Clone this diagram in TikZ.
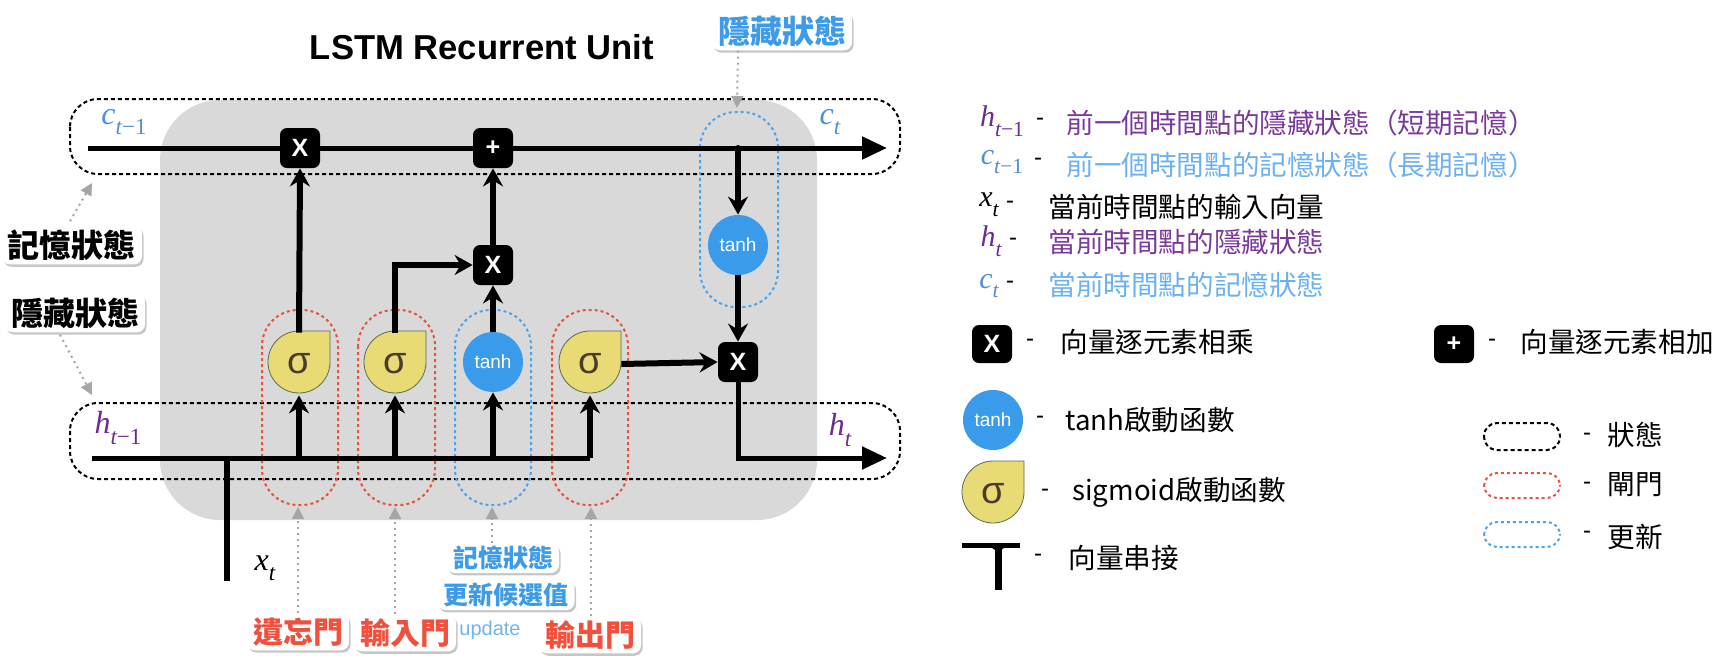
\documentclass[tikz,border=0pt]{standalone}
\usepackage{fontspec}
\setmainfont{Liberation Sans}
\newfontfamily\cjk{Noto Sans CJK TC}
\newfontfamily\ser{Liberation Serif}
\usetikzlibrary{arrows.meta,shapes.geometric,shadows}
\definecolor{cellgray}{HTML}{D9D9D9}
\definecolor{tanhblue}{HTML}{3A9BEA}
\definecolor{sigfill}{HTML}{E8DB76}
\definecolor{sigedge}{HTML}{5A6A50}
\definecolor{sigtext}{HTML}{4B3B2B}
\definecolor{gatered}{HTML}{E5533D}
\definecolor{updblue}{HTML}{4DA2EA}
\definecolor{labred}{HTML}{F0503C}
\definecolor{labblue}{HTML}{3D9BE9}
\definecolor{updlight}{HTML}{6FB4F0}
\definecolor{legpurple}{HTML}{7A3A9A}
\definecolor{legblue}{HTML}{6BB0F2}
\definecolor{mpurple}{HTML}{6A2C8E}
\definecolor{mblue}{HTML}{4E8FD8}
\newcommand\fs[1]{\fontsize{#1}{#1}\selectfont}
\newcommand\mv[3]{{\ser\itshape #1}\raisebox{-0.32em}{\scalebox{0.72}{\ser\itshape #2\upshape #3}}}
\newcommand\sigshape[3]{%
  \filldraw[fill=sigfill, draw=sigedge, line width=0.4pt, shift={(#1,#2)}, xscale=#3]
    (0pt,15.5pt) -- (15.5pt,15.5pt) -- (15.5pt,0pt)
    arc[start angle=0, end angle=-270, radius=15.5pt] -- cycle;}
\newcommand\tjoint[2]{%
  \fill[shift={(#1,#2)}] (-10,0) .. controls (-3,1) and (-1,4) .. (-1,10) -- (1,10) .. controls (1,4) and (3,1) .. (10,0) -- cycle;}
\tikzset{
  mainline/.style={line width=2.5pt},
  gatearrow/.style={line width=3pt, -{Stealth[length=9pt,width=10pt,inset=3pt]}},
  endarrow/.style={line width=2.5pt, -{Triangle[length=12.5pt,width=11pt]}},
  opbox/.style={fill=black, rounded corners=3.5pt, minimum size=20pt, inner sep=0pt,
    text=white, font=\bfseries\fs{12.5}},
  tanhc/.style={circle, fill=tanhblue, minimum size=30pt, inner sep=0pt, text=white, font=\fs{9.5}},
  signode/.style={circle, minimum size=31pt, inner sep=0pt, text=sigtext, font=\fs{19}},
  statecap/.style={draw=black, line width=1pt, dash pattern=on 2pt off 1.5pt},
  gatecap/.style={draw=gatered, line width=1pt, dash pattern=on 1.5pt off 1.5pt},
  updcap/.style={draw=updblue, line width=1pt, dash pattern=on 1.5pt off 1.5pt},
  hint/.style={draw=gray!70, line width=1pt, dotted, -{Triangle[length=6pt,width=6pt,fill=gray!70]}},
  callout/.style={fill=white, rounded corners=4pt, inner xsep=3pt, inner ysep=2pt,
    drop shadow={shadow xshift=0.8pt, shadow yshift=-1.2pt, opacity=0.45},
    font=\cjk\bfseries\fs{16}},
  smallcall/.style={callout, font=\cjk\bfseries\fs{12.5}, inner ysep=1.5pt},
  legtxt/.style={anchor=west, inner sep=0pt, font=\cjk\fs{13.8}},
  dashlab/.style={inner sep=0pt, font=\fs{12}},
  mlab/.style={inner sep=0pt, font=\fs{16}},
  lmlab/.style={inner sep=0pt, font=\fs{15}},
}
\begin{document}
\begin{tikzpicture}[x=0.5pt,y=-0.5pt]
\useasboundingbox (0,0) rectangle (1720,670);
% cell background
\fill[cellgray, rounded corners=30pt] (160,100) rectangle (817,520);
% state capsules
\draw[statecap, rounded corners=14pt] (70,99) rectangle (900,174);
\draw[statecap, rounded corners=14pt] (70,403) rectangle (900,479);
% gate capsules
\draw[gatecap, rounded corners=18pt] (262,310) rectangle (338,505);
\draw[gatecap, rounded corners=18pt] (358,310) rectangle (435,505);
\draw[updcap, rounded corners=18pt] (455,310) rectangle (531,505);
\draw[gatecap, rounded corners=18pt] (552,310) rectangle (628,505);
\draw[updcap, rounded corners=18pt] (700,112) rectangle (778,307);
% title
\node[font=\bfseries\fs{17.3}] (title) at (482,47) {LSTM Recurrent Unit};
% operators
\node[opbox] (m1) at (300,148) {X};
\node[opbox] (pl) at (493,148) {+};
\node[opbox] (m2) at (493,265) {X};
\node[opbox] (m3) at (738,362) {X};
\node[tanhc] (th1) at (493,362) {tanh};
\node[tanhc] (th2) at (738,245) {tanh};
\sigshape{299}{362}{1}
\sigshape{395}{362}{1}
\sigshape{590}{362}{1}
\node[signode] (s1) at (299,364) {σ};
\node[signode] (s2) at (395,364) {σ};
\node[signode] (s3) at (590,364) {σ};
% coordinates
\coordinate (cstart) at (88,148);
\coordinate (cend) at (887,148);
\coordinate (ctap) at (738,148);
\coordinate (hstart) at (92,458);
\coordinate (hturn) at (s3 |- hstart);
\coordinate (hend) at (887,458);
\coordinate (tbot) at (227,581);
\coordinate (ttop) at (227,458);
% cell state line
\draw[mainline] (cstart) -- (m1);
\draw[mainline] (m1) -- (pl);
\draw[endarrow] (pl) -- (cend);
% hidden input line
\draw[mainline] (hstart) -- (hturn);
\draw[line width=3pt] (tbot) -- (ttop);
\tjoint{227}{458}
% gate arrows
\draw[gatearrow] (s1 |- hstart) -- (s1.south);
\draw[gatearrow] (s2 |- hstart) -- (s2.south);
\draw[gatearrow] (th1 |- hstart) -- (th1.south);
\draw[gatearrow] (hturn) -- (s3.south);
\draw[gatearrow] (s1.north) -- (m1.south);
\draw[gatearrow] (s2.north) |- (m2.west);
\draw[gatearrow] (th1.north) -- (m2.south);
\draw[gatearrow] (m2.north) -- (pl.south);
\draw[gatearrow] (s3.east) -- (m3.west);
\draw[gatearrow, line cap=round] (ctap) -- (th2.north);
\draw[gatearrow] (th2.south) -- (m3.north);
\draw[endarrow] (m3.south) |- (hend);
% math labels
\node[mlab, text=mblue] (lc1) at (124,122) {\mv{c}{t}{−1}};
\node[mlab, text=mblue] (lc2) at (830,122) {\mv{c}{t}{}};
\node[mlab, text=mpurple] (lh1) at (118,428) {\mv{h}{t}{−1}};
\node[mlab, text=mpurple] (lh2) at (840,430) {\mv{h}{t}{}};
\node[mlab] (lx) at (265,568) {\mv{x}{t}{}};
% callouts
\node[callout] (cm) at (72,245) {記憶狀態};
\node[callout] (hm) at (75,313) {隱藏狀態};
\node[callout, text=labblue] (ht) at (782,31) {隱藏狀態};
\coordinate (cmtip) at (92,183);
\coordinate (hmtip) at (92,395);
\coordinate (httip) at (737,108);
\draw[hint] (cm.north) ++(-2,-4) -- (cmtip);
\draw[hint] (hm.south) ++(-15,2) -- (hmtip);
\draw[hint] (ht.south -| th2) -- (httip);
% bottom labels
\node[font=\fs{10}, text=updlight, inner sep=0pt] (up) at (490,630) {update};
\node[callout, font=\cjk\bfseries\fs{15}, text=labred] (fg) at (298,632) {遺忘門};
\node[callout, font=\cjk\bfseries\fs{15}, text=labred] (ig) at (405,633) {輸入門};
\node[smallcall, text=labblue] (cu2) at (506,595) {更新候選值};
\node[smallcall, text=labblue] (cu1) at (503,558) {記憶狀態};
\node[callout, font=\cjk\bfseries\fs{15}, text=labred] (og) at (590,635) {輸出門};
\coordinate (fgtip) at (298,507);
\coordinate (igtip) at (395,507);
\coordinate (cutip) at (492,507);
\coordinate (ogtip) at (591,507);
\draw[hint] (fg.north) -- (fgtip);
\draw[hint] (ig.north -| igtip) -- (igtip);
\draw[hint] (cu1.north -| cutip) -- (cutip);
\draw[hint] (og.north -| ogtip) -- (ogtip);
% legend: symbols
\node[lmlab, text=mpurple] (g1) at (1002,121) {\mv{h}{t}{−1}};
\node[lmlab, text=mblue] (g2) at (1002,162) {\mv{c}{t}{−1}};
\node[lmlab] (g3) at (989,205) {\mv{x}{t}{}};
\node[lmlab, text=mpurple] (g4) at (991,241) {\mv{h}{t}{}};
\node[lmlab, text=mblue] (g5) at (989,286) {\mv{c}{t}{}};
\node[dashlab] at (1040,122) {-};
\node[dashlab] at (1038,162) {-};
\node[dashlab] at (1010,205) {-};
\node[dashlab] at (1013,242) {-};
\node[dashlab] at (1010,285) {-};
\node[legtxt, text=legpurple] (t1) at (1066,123) {前一個時間點的隱藏狀態（短期記憶）};
\node[legtxt, text=legblue] (t2) at (1066,165) {前一個時間點的記憶狀態（長期記憶）};
\node[legtxt] (t3) at (1048,207) {當前時間點的輸入向量};
\node[legtxt, text=legpurple] (t4) at (1048,242) {當前時間點的隱藏狀態};
\node[legtxt, text=legblue] (t5) at (1048,285) {當前時間點的記憶狀態};
% legend: operators
\node[opbox, minimum width=20pt, minimum height=19pt] (lm) at (992,344) {X};
\node[dashlab] at (1030,343) {-};
\node[legtxt] (tm) at (1060,342) {向量逐元素相乘};
\node[opbox, minimum width=20pt, minimum height=19pt] (lp) at (1454,344) {+};
\node[dashlab] at (1492,343) {-};
\node[legtxt] (tp) at (1520,342) {向量逐元素相加};
\node[tanhc] (lt) at (993,420) {tanh};
\node[dashlab] at (1040,420) {-};
\node[legtxt] (tt) at (1065,420) {tanh啟動函數};
\sigshape{993}{492}{1}
\node[signode] (ls) at (993,494) {σ};
\node[dashlab] at (1045,493) {-};
\node[legtxt] (tsg) at (1072,492) {sigmoid啟動函數};
\coordinate (lta) at (962,545.5);
\coordinate (ltb) at (1020,545.5);
\coordinate (ltm) at (998,545.5);
\coordinate (ltc) at (998,590);
\draw[line width=2.5pt] (lta) -- (ltb);
\draw[line width=3.5pt] (ltm) -- (ltc);
\tjoint{998}{547}
\node[dashlab] at (1038,558) {-};
\node[legtxt] (tcat) at (1068,558) {向量串接};
% legend: capsules
\draw[statecap, rounded corners=6.5pt] (1484,423) rectangle (1560,450);
\draw[gatecap, rounded corners=6.5pt] (1484,473) rectangle (1560,498);
\draw[updcap, rounded corners=6.5pt] (1484,522) rectangle (1560,547);
\node[dashlab] at (1587,437) {-};
\node[dashlab] at (1587,486) {-};
\node[dashlab] at (1587,535) {-};
\node[legtxt] (ts) at (1607,435) {狀態};
\node[legtxt] (tg) at (1607,485) {閘門};
\node[legtxt] (tu) at (1607,537) {更新};
\end{tikzpicture}
\end{document}
